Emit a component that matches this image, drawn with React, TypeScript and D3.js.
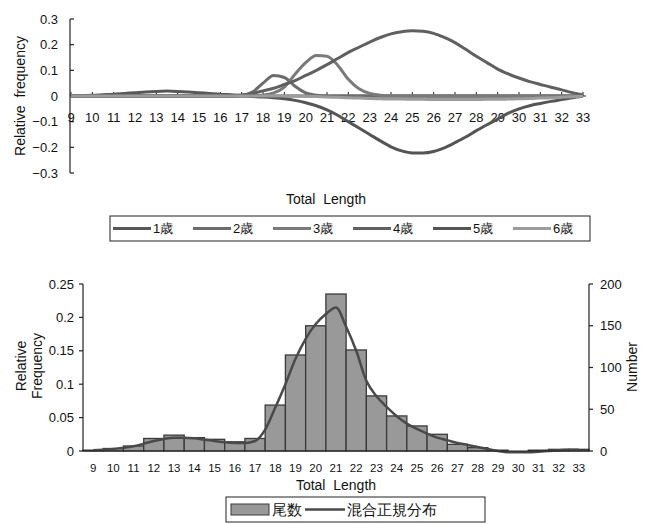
import React from "react";
import * as d3 from "d3";

// ---------- Top chart data ----------
const topX = [9, 9.5, 10, 10.5, 11, 11.5, 12, 12.5, 13, 13.5, 14, 14.5, 15, 15.5, 16, 16.5, 17, 17.5, 18, 18.5, 19, 19.5, 20, 20.5, 21, 21.5, 22, 22.5, 23, 23.5, 24, 24.5, 25, 25.5, 26, 26.5, 27, 27.5, 28, 28.5, 29, 29.5, 30, 30.5, 31, 31.5, 32, 32.5, 33];
const age1 = [0.001, 0.002, 0.003, 0.005, 0.007, 0.01, 0.013, 0.016, 0.018, 0.019, 0.018, 0.016, 0.013, 0.01, 0.007, 0.005, 0.003, 0.002, 0.001, 0, 0, 0, 0, 0, 0, 0, 0, 0, 0, 0, 0, 0, 0, 0, 0, 0, 0, 0, 0, 0, 0, 0, 0, 0, 0, 0, 0, 0, 0];
const age2 = [0, 0, 0, 0, 0, 0, 0, 0, 0, 0, 0, 0, 0, 0, 0, 0, 0.002, 0.015, 0.05, 0.08, 0.072, 0.038, 0.012, 0.003, 0, 0, 0, 0, 0, 0, 0, 0, 0, 0, 0, 0, 0, 0, 0, 0, 0, 0, 0, 0, 0, 0, 0, 0, 0];
const age3 = [0, 0, 0, 0, 0, 0, 0, 0, 0, 0, 0, 0, 0, 0, 0, 0, 0, 0, 0.004, 0.012, 0.035, 0.085, 0.13, 0.158, 0.155, 0.12, 0.065, 0.028, 0.01, 0.003, 0, 0, 0, 0, 0, 0, 0, 0, 0, 0, 0, 0, 0, 0, 0, 0, 0, 0, 0];
const age4 = [0, 0, 0, 0, 0, 0, 0, 0, 0, 0, 0, 0, 0, 0, 0, 0, 0.004, 0.01, 0.02, 0.03, 0.045, 0.06, 0.08, 0.1, 0.122, 0.146, 0.17, 0.19, 0.21, 0.228, 0.242, 0.25, 0.254, 0.252, 0.244, 0.228, 0.208, 0.182, 0.155, 0.13, 0.105, 0.086, 0.07, 0.056, 0.045, 0.034, 0.024, 0.013, 0.004];
const age5 = [0, 0, 0, 0, 0, 0, 0, 0, 0, 0, 0, 0, 0, 0, 0, 0, 0, -0.002, -0.004, -0.007, -0.011, -0.017, -0.026, -0.038, -0.054, -0.075, -0.1, -0.125, -0.15, -0.175, -0.198, -0.214, -0.222, -0.222, -0.216, -0.202, -0.182, -0.16, -0.135, -0.112, -0.09, -0.067, -0.05, -0.038, -0.029, -0.021, -0.014, -0.007, -0.001];
const age6 = [0, 0, 0, 0, 0, 0, 0, 0, 0, 0, 0, 0, 0, 0, 0, 0, 0, 0, 0, 0, 0, 0, -0.001, -0.002, -0.004, -0.005, -0.007, -0.008, -0.01, -0.011, -0.012, -0.012, -0.013, -0.013, -0.014, -0.014, -0.014, -0.014, -0.014, -0.013, -0.013, -0.012, -0.011, -0.01, -0.008, -0.007, -0.005, -0.003, -0.001];
const topSeriesNames = ["1歳", "2歳", "3歳", "4歳", "5歳", "6歳"];
const topSeriesValues = [age1, age2, age3, age4, age5, age6];
const topColors = ["#585858", "#6c6c6c", "#7a7a7a", "#606060", "#555555", "#9c9c9c"];
const topYTicks = [-0.3, -0.2, -0.1, 0, 0.1, 0.2, 0.3];
const topYLabels = ["−0.3", "−0.2", "−0.1", "0", "0.1", "0.2", "0.3"];

// ---------- Bottom chart data ----------
const categories = ["9", "10", "11", "12", "13", "14", "15", "16", "17", "18", "19", "20", "21", "22", "23", "24", "25", "26", "27", "28", "29", "30", "31", "32", "33"];
const counts = [1, 3, 6, 15, 19, 16, 14, 11, 15, 55, 115, 150, 188, 121, 66, 42, 30, 20, 8, 4, 1, 0, 1, 2, 2];
const mixX = topX;
const mixValues = [0.001, 0.002, 0.003, 0.005, 0.007, 0.011, 0.015, 0.018, 0.02, 0.02, 0.019, 0.017, 0.015, 0.013, 0.012, 0.012, 0.015, 0.032, 0.065, 0.1, 0.138, 0.168, 0.19, 0.205, 0.215, 0.186, 0.15, 0.105, 0.082, 0.066, 0.052, 0.041, 0.033, 0.026, 0.02, 0.016, 0.012, 0.009, 0.006, 0.003, 0, -0.002, -0.002, -0.002, -0.001, 0, 0.001, 0.002, 0.002];
const leftTicks = [0, 0.05, 0.1, 0.15, 0.2, 0.25];
const leftLabels = ["0", "0.05", "0.1", "0.15", "0.2", "0.25"];
const rightTicks = [0, 50, 100, 150, 200];

const FONT = "'Liberation Sans', Arial, sans-serif";

export default function App() {
  // top scales
  const tx = d3.scaleLinear().domain([9, 33]).range([71, 583]);
  const ty = d3.scaleLinear().domain([-0.3, 0.3]).range([173, 19]);
  const topLine = d3
    .line<number>()
    .x((_, i) => tx(topX[i]))
    .y((d) => ty(d))
    .curve(d3.curveMonotoneX);
  const xInts = d3.range(9, 34);

  // bottom scales
  const bx = d3.scaleBand<string>().domain(categories).range([83, 589]).padding(0);
  const bxl = d3.scaleLinear().domain([8.5, 33.5]).range([83, 589]);
  const yl = d3.scaleLinear().domain([0, 0.25]).range([451, 284]);
  const yr = d3.scaleLinear().domain([0, 200]).range([451, 284]);
  const mixLine = d3
    .line<number>()
    .x((_, i) => bxl(mixX[i]))
    .y((d) => yl(d))
    .curve(d3.curveMonotoneX);

  return (
    <svg
      width={652}
      height={524}
      style={{ position: "absolute", left: 0, top: 0, background: "#fff" }}
      fontFamily={FONT}
    >
      <rect x={0} y={0} width={652} height={524} fill="#fff" />
      {/* ===== TOP CHART ===== */}
      <g>
        <line x1={70} x2={70} y1={ty(0.3)} y2={ty(-0.3)} stroke="#222" strokeWidth={1.2} />
        {topYTicks.map((t, i) => (
          <g key={"ty" + i}>
            <line x1={70} x2={74} y1={ty(t)} y2={ty(t)} stroke="#222" strokeWidth={1.2} />
            <text x={58} y={ty(t)} dy="0.35em" textAnchor="end" fontSize={13} fill="#111">
              {topYLabels[i]}
            </text>
          </g>
        ))}
        <line x1={tx(9)} x2={tx(33) + 3} y1={ty(0)} y2={ty(0)} stroke="#222" strokeWidth={1.2} />
        {xInts.map((v) => (
          <g key={"tx" + v}>
            <line x1={tx(v)} x2={tx(v)} y1={ty(0)} y2={ty(0) - 4} stroke="#222" strokeWidth={1} />
            <text x={tx(v)} y={117} dy="0.35em" textAnchor="middle" fontSize={13} fill="#111">
              {v}
            </text>
          </g>
        ))}
        {topSeriesValues.map((vals, i) => (
          <path
            key={"s" + i}
            d={topLine(vals) || ""}
            fill="none"
            stroke={topColors[i]}
            strokeWidth={3}
            strokeLinejoin="round"
          />
        ))}
        <text
          transform={`translate(20,${ty(0)}) rotate(-90)`}
          textAnchor="middle"
          dy="0.35em"
          fontSize={14}
          fill="#111"
          xmlSpace="preserve"
          style={{ whiteSpace: "pre" }}
        >
          {"Relative  frequency"}
        </text>
        <text x={326} y={199} textAnchor="middle" dy="0.35em" fontSize={14} fill="#111" xmlSpace="preserve" style={{ whiteSpace: "pre" }}>
          {"Total  Length"}
        </text>
        <rect x={110} y={216} width={480} height={25} fill="#fff" stroke="#222" strokeWidth={1} />
        {topSeriesNames.map((n, i) => (
          <g key={"lg" + i}>
            <line
              x1={113 + i * 80}
              x2={151 + i * 80}
              y1={228.5}
              y2={228.5}
              stroke={topColors[i]}
              strokeWidth={3}
            />
            <text x={153 + i * 80} y={228.5} dy="0.35em" fontSize={13} fill="#111">
              {n}
            </text>
          </g>
        ))}
      </g>

      {/* ===== BOTTOM CHART ===== */}
      <g>
        {categories.map((c, i) => (
          <rect
            key={"b" + c}
            x={bx(c)}
            y={yr(counts[i])}
            width={bx.bandwidth()}
            height={yr(0) - yr(counts[i])}
            fill="#999999"
            stroke="#3a3a3a"
            strokeWidth={1.3}
          />
        ))}
        <path d={mixLine(mixValues) || ""} fill="none" stroke="#4a4a4a" strokeWidth={2.5} />
        <line x1={83} x2={83} y1={yl(0.25)} y2={yl(0)} stroke="#222" strokeWidth={1.2} />
        <line x1={589} x2={589} y1={yr(200)} y2={yr(0)} stroke="#222" strokeWidth={1.2} />
        <line x1={83} x2={589} y1={yl(0)} y2={yl(0)} stroke="#222" strokeWidth={1.2} />
        {leftTicks.map((t, i) => (
          <g key={"lt" + i}>
            <line x1={79} x2={83} y1={yl(t)} y2={yl(t)} stroke="#222" strokeWidth={1.2} />
            <text x={74} y={yl(t)} dy="0.35em" textAnchor="end" fontSize={13} fill="#111">
              {leftLabels[i]}
            </text>
          </g>
        ))}
        {rightTicks.map((t) => (
          <g key={"rt" + t}>
            <line x1={589} x2={593} y1={yr(t)} y2={yr(t)} stroke="#222" strokeWidth={1.2} />
            <text x={600} y={yr(t)} dy="0.35em" textAnchor="start" fontSize={13} fill="#111">
              {t}
            </text>
          </g>
        ))}
        {categories.map((c) => (
          <text
            key={"bl" + c}
            x={(bx(c) || 0) + bx.bandwidth() / 2}
            y={468}
            dy="0.35em"
            textAnchor="middle"
            fontSize={11.5}
            fill="#111"
          >
            {c}
          </text>
        ))}
        <text transform="translate(21,366) rotate(-90)" textAnchor="middle" dy="0.35em" fontSize={14} fill="#111">
          Relative
        </text>
        <text transform="translate(37,366) rotate(-90)" textAnchor="middle" dy="0.35em" fontSize={14} fill="#111">
          Frequency
        </text>
        <text transform="translate(632,367) rotate(-90)" textAnchor="middle" dy="0.35em" fontSize={14} fill="#111">
          Number
        </text>
        <text x={336} y={485} textAnchor="middle" dy="0.35em" fontSize={14} fill="#111" xmlSpace="preserve" style={{ whiteSpace: "pre" }}>
          {"Total  Length"}
        </text>
        <rect x={226} y={497} width={259} height={25} fill="#fff" stroke="#222" strokeWidth={1} />
        <rect x={231} y={504} width={38} height={11} fill="#999999" stroke="#3a3a3a" strokeWidth={1} />
        <text x={272} y={509.5} dy="0.35em" fontSize={15} fill="#111">
          尾数
        </text>
        <line x1={305} x2={345} y1={509.5} y2={509.5} stroke="#4a4a4a" strokeWidth={2.5} />
        <text x={347} y={509.5} dy="0.35em" fontSize={15} fill="#111">
          混合正規分布
        </text>
      </g>
    </svg>
  );
}
